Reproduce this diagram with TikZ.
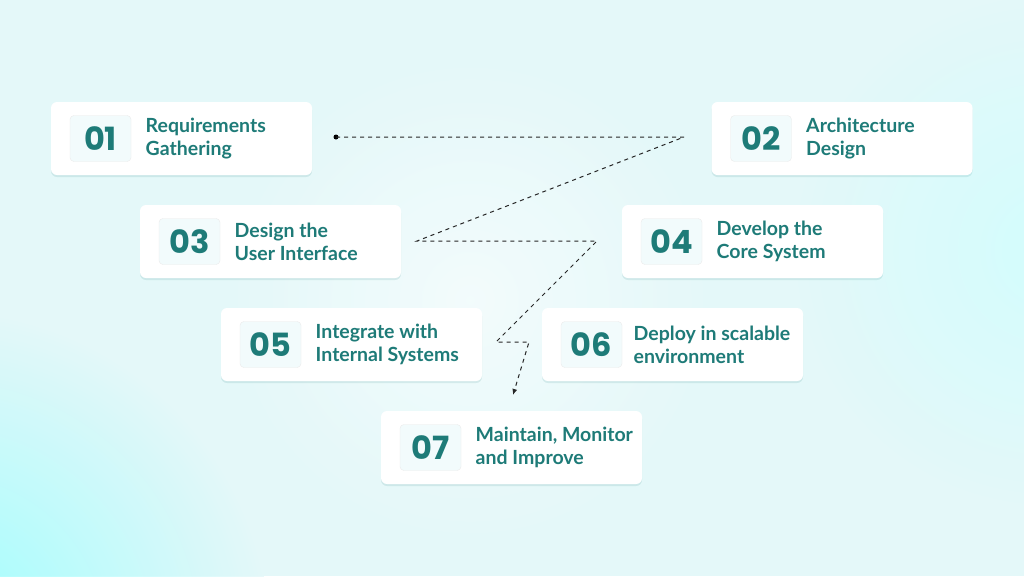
\documentclass[tikz,border=0pt]{standalone}
\usepackage{fontspec}
\setmainfont{Lato}
\newfontfamily\numfont{Poppins}
\usetikzlibrary{arrows.meta,backgrounds,shadows}
\definecolor{teal1}{HTML}{1E7B78}
\definecolor{bgcyan}{HTML}{E4F8F9}
\definecolor{boxfill}{HTML}{F2FBFC}
\tikzset{
  card/.style = {draw=none,fill=white,rounded corners=6pt,minimum width=261pt,minimum height=73pt,
                 drop shadow={shadow xshift=0pt,shadow yshift=-2pt,opacity=0.12,fill=teal1}},
  numbox/.style = {draw=black!8,fill=boxfill,rounded corners=4pt,minimum width=61pt,minimum height=46pt,
                   text=teal1,font=\numfont\bfseries\fontsize{32}{32}\selectfont},
  steplabel/.style = {anchor=west,align=left,text=teal1,font=\bfseries\fontsize{19.5}{23}\selectfont},
  path/.style = {black!85,line width=1pt,dash pattern=on 4pt off 4pt}
}
\begin{document}
\begin{tikzpicture}[x=1pt,y=-1pt]
        \useasboundingbox (0,0) rectangle (1024,576);
        \begin{scope}[on background layer]
            \fill[bgcyan] (0,0) rectangle (1024,576);
            \shade[inner color=cyan!45,outer color=bgcyan,opacity=0.8] (-60,640) circle (330);
            \shade[inner color=cyan!20,outer color=bgcyan,opacity=0.7] (1050,250) circle (260);
            \shade[inner color=white!80!bgcyan,outer color=bgcyan,opacity=0.7] (470,300) circle (250);
        \end{scope}

        \node[card] (s1) at (181.5,138.5) {};
        \node[card] (s2) at (842,138.5) {};
        \node[card] (s3) at (270.5,241.5) {};
        \node[card] (s4) at (752.5,241.5) {};
        \node[card] (s5) at (351.5,344.5) {};
        \node[card] (s6) at (672.5,344.5) {};
        \node[card] (s7) at (511.5,447.5) {};

        \node[numbox] (n1) at ([xshift=-81pt]s1.center) {01};
        \node[numbox] (n2) at ([xshift=-81pt]s2.center) {02};
        \node[numbox] (n3) at ([xshift=-81pt]s3.center) {03};
        \node[numbox] (n4) at ([xshift=-81pt]s4.center) {04};
        \node[numbox] (n5) at ([xshift=-81pt]s5.center) {05};
        \node[numbox] (n6) at ([xshift=-81pt]s6.center) {06};
        \node[numbox] (n7) at ([xshift=-81pt]s7.center) {07};

        \node[steplabel] (t1) at ([xshift=11pt]n1.east) {Requirements\\Gathering};
        \node[steplabel] (t2) at ([xshift=11pt]n2.east) {Architecture\\Design};
        \node[steplabel] (t3) at ([xshift=11pt]n3.east) {Design the\\User Interface};
        \node[steplabel] (t4) at ([xshift=11pt]n4.east) {Develop the\\Core System};
        \node[steplabel] (t5) at ([xshift=11pt]n5.east) {Integrate with\\Internal Systems};
        \node[steplabel] (t6) at ([xshift=8pt]n6.east) {Deploy in scalable\\environment};
        \node[steplabel] (t7) at ([xshift=11pt]n7.east) {Maintain, Monitor\\and Improve};

        \coordinate (p0) at (336,137);
        \coordinate (p1) at (684,137);
        \coordinate (p2) at (417,241);
        \coordinate (p3) at (597,241);
        \coordinate (p4) at (496,342);
        \coordinate (p5) at (529,342);
        \coordinate (p6) at (513,395);

        \fill (p0) circle (2.5pt);
        \draw[path,-{Latex[length=6pt,width=5pt]}] (p0) -- (p1) -- (p2) -- (p3) -- (p4) -- (p5) -- (p6);
\end{tikzpicture}
\end{document}
